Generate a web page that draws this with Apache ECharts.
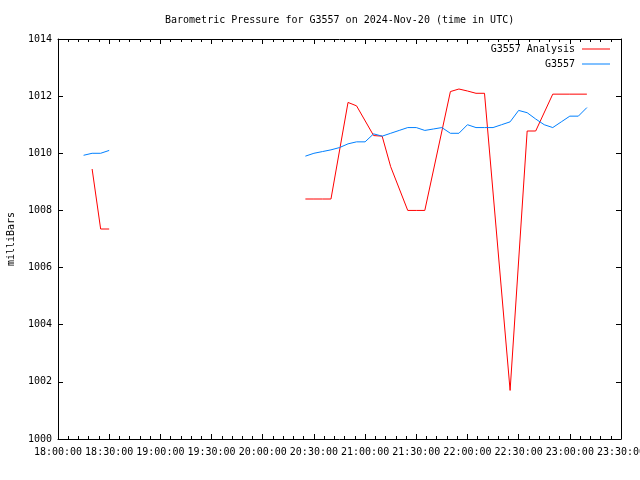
<!DOCTYPE html>
<html><head><meta charset="utf-8">
<script src="https://cdn.jsdelivr.net/npm/echarts@6/dist/echarts.min.js"></script>
<style>html,body{margin:0;padding:0;background:#fff}#c{width:640px;height:480px}</style>
</head><body><div id="c"></div>
<script>
// Analysis (red) — times UTC, null marks the data gap
const analysisTimes = ['18:20','18:25','18:30','18:35','20:25','20:30','20:35','20:40','20:50','20:55','21:05','21:10','21:15','21:25','21:30','21:35','21:50','21:55','22:00','22:05','22:10','22:25','22:35','22:40','22:50','23:00','23:10'];
const analysisValues = [1009.45,1007.35,1007.35,null,1008.4,1008.4,1008.4,1008.4,1011.78,1011.66,1010.62,1010.6,1009.53,1008.0,1008.0,1008.0,1012.16,1012.25,1012.18,1012.1,1012.1,1001.7,1010.78,1010.78,1012.07,1012.07,1012.07];
// Observed G3557 (blue)
const obsTimes = ['18:15','18:20','18:25','18:30','18:35','20:25','20:30','20:35','20:40','20:45','20:50','20:55','21:00','21:05','21:10','21:15','21:20','21:25','21:30','21:35','21:40','21:45','21:50','21:55','22:00','22:05','22:10','22:15','22:20','22:25','22:30','22:35','22:40','22:45','22:50','22:55','23:00','23:05','23:10'];
const obsValues = [1009.93,1010.0,1010.0,1010.1,null,1009.9,1010.0,1010.06,1010.12,1010.2,1010.33,1010.4,1010.4,1010.68,1010.6,1010.7,1010.8,1010.9,1010.9,1010.8,1010.85,1010.9,1010.7,1010.7,1011.0,1010.9,1010.9,1010.9,1011.0,1011.1,1011.5,1011.42,1011.2,1011.0,1010.9,1011.1,1011.3,1011.3,1011.6];
const xTickLabels = ['18:00:00','18:30:00','19:00:00','19:30:00','20:00:00','20:30:00','21:00:00','21:30:00','22:00:00','22:30:00','23:00:00','23:30:00'];
const yTickLabels = ['1000','1002','1004','1006','1008','1010','1012','1014'];

const toMin = s => { const p = s.split(':'); return (+p[0]) * 60 + (+p[1]); };
const XMIN = 1080, XMAX = 1410, YMIN = 1000, YMAX = 1014;
const FONT = 'DejaVu Sans Mono';
const ts = {color:'#000', fontFamily: FONT, fontSize: 10, padding:[0,2,0,0]};

const chart = echarts.init(document.getElementById('c'), null, {renderer:'canvas'});
const axLine = {show:true, onZero:false, lineStyle:{color:'#000', width:1}};
const tick = {show:true, inside:true, length:5, lineStyle:{color:'#000', width:1}};
const minor = {show:true, splitNumber:5, length:3, lineStyle:{color:'#000', width:1}};

chart.setOption({
  animation:false,
  backgroundColor:'#fff',
  title:{text:'Barometric Pressure for G3557 on 2024-Nov-20 (time in UTC)', left:165, top:15, padding:0,
    textStyle:{color:'#000', fontFamily:FONT, fontSize:10, fontWeight:'normal'}},
  grid:{left:58, top:39, right:19, bottom:41, containLabel:false, outerBoundsMode:'none'},
  legend:[
    {data:['G3557 Analysis'], right:30, top:44, padding:0, orient:'vertical', align:'right', icon:'rect', itemWidth:28, itemHeight:1, textStyle:ts},
    {data:['G3557'], right:30, top:59, padding:0, orient:'vertical', align:'right', icon:'rect', itemWidth:28, itemHeight:1, textStyle:ts}
  ],
  xAxis:[
    {type:'value', min:XMIN, max:XMAX, interval:30, position:'bottom', axisLine:axLine, axisTick:tick, minorTick:minor,
      splitLine:{show:false},
      axisLabel:{color:'#000', fontFamily:FONT, fontSize:10, margin:8, formatter:v => xTickLabels[Math.round((v - XMIN) / 30)] || ''}},
    {type:'value', min:XMIN, max:XMAX, interval:30, position:'top', axisLine:axLine, axisTick:tick, minorTick:minor,
      splitLine:{show:false}, axisLabel:{show:false}}
  ],
  yAxis:[
    {type:'value', min:YMIN, max:YMAX, interval:2, position:'left', axisLine:axLine, axisTick:tick, splitLine:{show:false},
      name:'milliBars', nameLocation:'middle', nameGap:42, nameRotate:90,
      nameTextStyle:{color:'#000', fontFamily:FONT, fontSize:10},
      axisLabel:{color:'#000', fontFamily:FONT, fontSize:10, margin:6, formatter:v => yTickLabels[Math.round((v - YMIN) / 2)] || ''}},
    {type:'value', min:YMIN, max:YMAX, interval:2, position:'right', axisLine:axLine, axisTick:tick, splitLine:{show:false},
      axisLabel:{show:false}}
  ],
  series:[
    {name:'G3557 Analysis', type:'line', xAxisIndex:0, yAxisIndex:0, symbol:'none', connectNulls:false,
      color:'#ff0000', lineStyle:{color:'#ff0000', width:1},
      data: analysisTimes.map((t,i) => [toMin(t), analysisValues[i]])},
    {name:'G3557', type:'line', xAxisIndex:0, yAxisIndex:0, symbol:'none', connectNulls:false,
      color:'#0080ff', lineStyle:{color:'#0080ff', width:1},
      data: obsTimes.map((t,i) => [toMin(t), obsValues[i]])}
  ]
});
</script>
</body></html>
